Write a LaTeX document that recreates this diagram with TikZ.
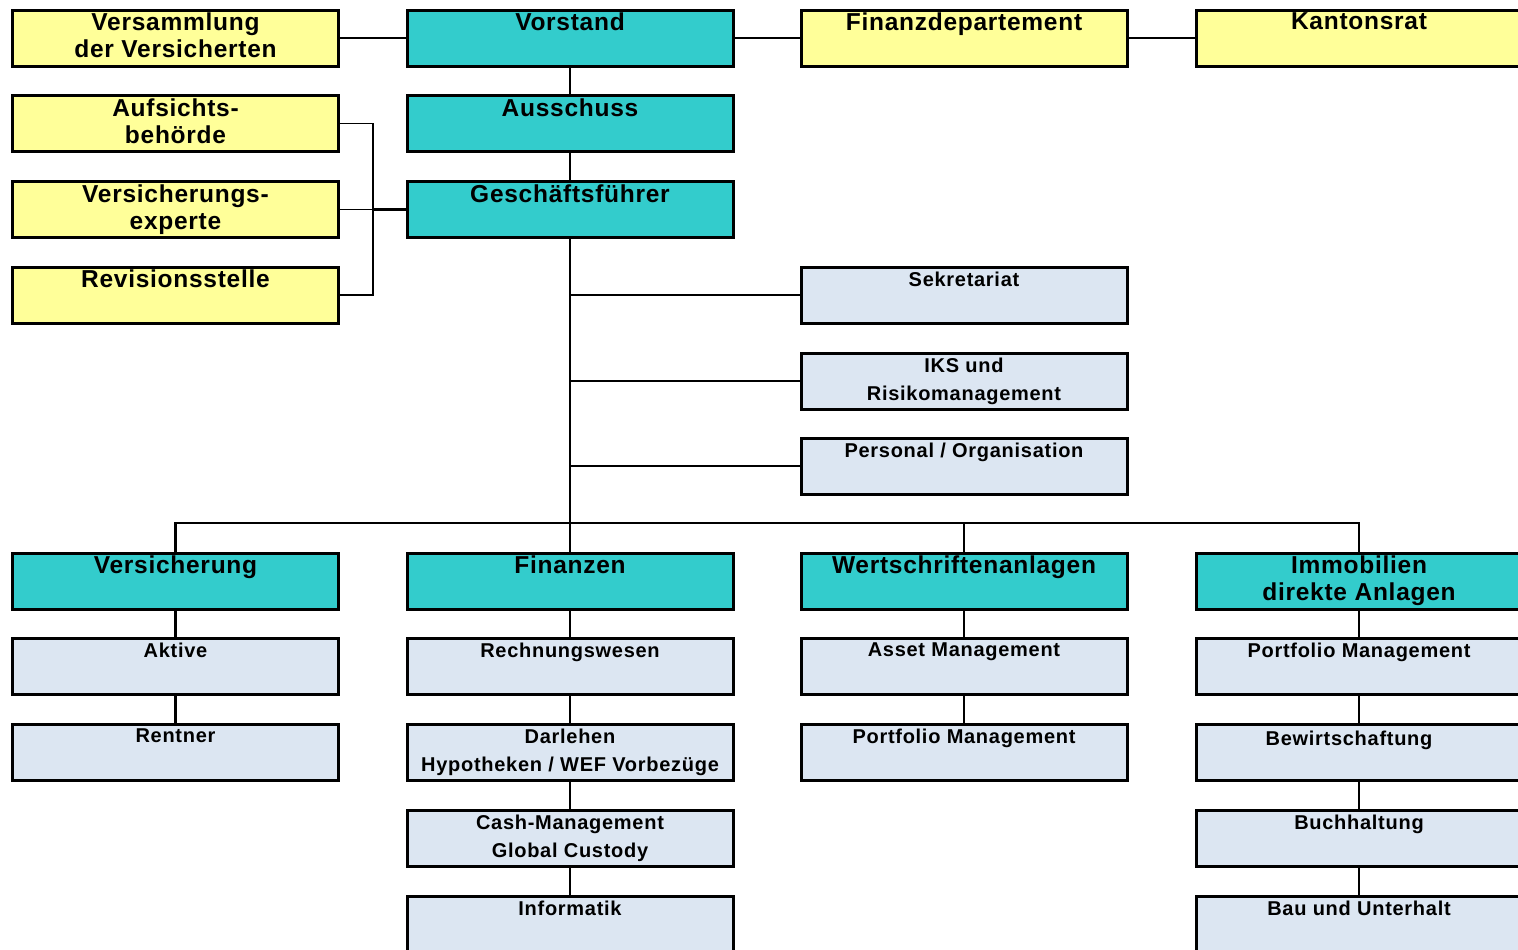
\documentclass[tikz,border=0pt]{standalone}
\usepackage{fontspec}
\setmainfont{Liberation Sans}
\newfontfamily\headfont{Liberation Sans}[LetterSpace=3]
\newfontfamily\unitfont{Liberation Sans}[LetterSpace=3.6]
\definecolor{boardyellow}{HTML}{FFFF99}
\definecolor{boardteal}{HTML}{33CCCC}
\definecolor{unitgray}{HTML}{DCE6F2}

\begin{document}
\begin{tikzpicture}[x=0.5pt, y=-0.5pt,
    box/.style={draw, line width=1.5pt, minimum width=163pt, minimum height=28pt, inner sep=0pt},
    board/.style={box, fill=boardyellow},
    head/.style={box, fill=boardteal},
    unit/.style={box, fill=unitgray},
    bigtext/.style={anchor=north, yshift=-2pt, inner sep=0pt, align=center,
        font=\headfont\bfseries\fontsize{12.25}{13.5}\selectfont},
    smalltext/.style={anchor=north, yshift=-3pt, inner sep=0pt, align=center,
        font=\unitfont\bfseries\fontsize{10}{14.25}\selectfont},
    link/.style={line width=1.3pt},
    fine/.style={line width=0.6pt}]

    % Page frame (cuts the boxes at the right and bottom edge)
    \useasboundingbox (0,0) rectangle (1518,949);
    \clip (0,0) rectangle (1518,949);

    % Top level
    \node[board] (vers) at (175.5,38) {};
    \node[bigtext] (versT) at (vers.north) {Versammlung\\der Versicherten};
    \node[head] (vorst) at (570,38) {};
    \node[bigtext] (vorstT) at (vorst.north) {Vorstand};
    \node[board] (findep) at (964,38) {};
    \node[bigtext] (findepT) at (findep.north) {Finanzdepartement};
    \node[board] (kant) at (1359,38) {};
    \node[bigtext] (kantT) at (kant.north) {Kantonsrat};

    % Supervision on the left
    \node[board] (aufs) at (175.5,123.5) {};
    \node[bigtext] (aufsT) at (aufs.north) {Aufsichts-\\behörde};
    \node[board] (vexp) at (175.5,209.5) {};
    \node[bigtext] (vexpT) at (vexp.north) {Versicherungs-\\experte};
    \node[board] (revi) at (175.5,295) {};
    \node[bigtext] (reviT) at (revi.north) {Revisionsstelle};

    % Management
    \node[head] (aussch) at (570,123.5) {};
    \node[bigtext] (ausschT) at (aussch.north) {Ausschuss};
    \node[head] (gf) at (570,209.5) {};
    \node[bigtext] (gfT) at (gf.north) {Geschäftsführer};

    % Staff units
    \node[unit] (sekr) at (964,295) {};
    \node[smalltext] (sekrT) at (sekr.north) {Sekretariat};
    \node[unit] (iks) at (964,381) {};
    \node[smalltext] (iksT) at (iks.north) {IKS und\\Risikomanagement};
    \node[unit] (pers) at (964,466) {};
    \node[smalltext] (persT) at (pers.north) {Personal / Organisation};

    % Divisions
    \node[head] (versi) at (175.5,581) {};
    \node[bigtext] (versiT) at (versi.north) {Versicherung};
    \node[head] (finz) at (570,581) {};
    \node[bigtext] (finzT) at (finz.north) {Finanzen};
    \node[head] (wert) at (964,581) {};
    \node[bigtext] (wertT) at (wert.north) {Wertschriftenanlagen};
    \node[head] (immo) at (1359,581) {};
    \node[bigtext] (immoT) at (immo.north) {Immobilien\\direkte Anlagen};

    % Versicherung
    \node[unit] (aktiv) at (175.5,666) {};
    \node[smalltext] (aktivT) at (aktiv.north) {Aktive};
    \node[unit] (rent) at (175.5,752) {};
    \node[smalltext] (rentT) at (rent.north) {Rentner};

    % Finanzen
    \node[unit] (rech) at (570,666) {};
    \node[smalltext] (rechT) at (rech.north) {Rechnungswesen};
    \node[unit] (darl) at (570,752) {};
    \node[smalltext] (darlT) at (darl.north) {Darlehen\\Hypotheken / WEF Vorbezüge};
    \node[unit] (cash) at (570,838) {};
    \node[smalltext] (cashT) at (cash.north) {Cash-Management\\Global Custody};
    \node[unit] (info) at (570,924) {};
    \node[smalltext] (infoT) at (info.north) {Informatik};

    % Wertschriftenanlagen
    \node[unit] (asset) at (964,666) {};
    \node[smalltext] (assetT) at (asset.north) {Asset Management};
    \node[unit] (pfw) at (964,752) {};
    \node[smalltext] (pfwT) at (pfw.north) {Portfolio Management};

    % Immobilien
    \node[unit] (pfi) at (1359,666) {};
    \node[smalltext] (pfiT) at (pfi.north) {Portfolio Management};
    \node[unit] (bew) at (1359,752) {};
    \node[smalltext, xshift=-5pt, yshift=-1pt] (bewT) at (bew.north) {Bewirtschaftung};
    \node[unit] (buch) at (1359,838) {};
    \node[smalltext] (buchT) at (buch.north) {Buchhaltung};
    \node[unit] (bau) at (1359,924) {};
    \node[smalltext] (bauT) at (bau.north) {Bau und Unterhalt};

    % Top row links
    \draw[link] (vers) -- (vorst);
    \draw[link] (vorst) -- (findep);
    \draw[link] (findep) -- (kant);
    \draw[link] (vorst) -- (aussch);
    \draw[link] (aussch) -- (gf);

    % Bracket of the supervision boxes
    \coordinate (brk) at (373,209.5);
    \draw[fine] (aufs.east) -- (brk |- aufs.east) -- (brk |- revi.east) -- (revi.east);
    \draw[fine] (vexp.east) -- (brk);
    \draw[link] (brk) -- (gf.west);

    % Trunk with staff units
    \coordinate (bus) at (570,523);
    \draw[link] (gf) -- (bus);
    \draw[link] (gf.south |- sekr) -- (sekr);
    \draw[link] (gf.south |- iks) -- (iks);
    \draw[link] (gf.south |- pers) -- (pers);

    % Bus to the divisions
    \draw[link] (versi) -- (versi.north |- bus) -- (immo.north |- bus) -- (immo);
    \draw[link] (bus) -- (finz);
    \draw[link] (wert.north |- bus) -- (wert);

    % Columns
    \draw[link] (versi) -- (aktiv);
    \draw[link] (aktiv) -- (rent);
    \draw[link] (finz) -- (rech);
    \draw[link] (rech) -- (darl);
    \draw[link] (darl) -- (cash);
    \draw[link] (cash) -- (info);
    \draw[link] (wert) -- (asset);
    \draw[link] (asset) -- (pfw);
    \draw[link] (immo) -- (pfi);
    \draw[link] (pfi) -- (bew);
    \draw[link] (bew) -- (buch);
    \draw[link] (buch) -- (bau);

\end{tikzpicture}
\end{document}
